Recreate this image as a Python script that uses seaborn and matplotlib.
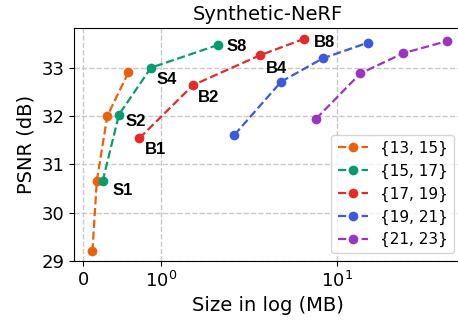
import numpy as np
import pandas as pd
import seaborn as sns
import matplotlib
matplotlib.use("Agg")
import matplotlib.pyplot as plt
from matplotlib.ticker import NullLocator

# data
groups = ["{13, 15}", "{15, 17}", "{17, 19}", "{19, 21}", "{21, 23}"]
size_13_15 = [0.12, 0.176, 0.31, 0.58]
psnr_13_15 = [29.20, 30.66, 32.00, 32.90]
size_15_17 = [0.25, 0.46, 0.87, 2.11]
psnr_15_17 = [30.65, 32.03, 33.00, 33.47]
size_17_19 = [0.72, 1.52, 3.67, 6.46]
psnr_17_19 = [31.54, 32.64, 33.26, 33.59]
size_19_21 = [2.61, 4.82, 8.29, 15.1]
psnr_19_21 = [31.61, 32.71, 33.19, 33.52]
size_21_23 = [7.6, 13.6, 23.9, 42.5]
psnr_21_23 = [31.94, 32.88, 33.30, 33.55]

s_labels = ["S1", "S2", "S4", "S8"]
b_labels = ["B1", "B2", "B4", "B8"]

colors = ["#e8620c", "#079c6e", "#e32b2b", "#3b5bdb", "#9b35bf"]

sizes = [size_13_15, size_15_17, size_17_19, size_19_21, size_21_23]
psnrs = [psnr_13_15, psnr_15_17, psnr_17_19, psnr_19_21, psnr_21_23]

fig = plt.figure(figsize=(4.58, 3.2), dpi=100)
ax = fig.add_axes([0.1616, 0.184, 0.847, 0.7285])

for g, xs, ys, c in zip(groups, sizes, psnrs, colors):
    df = pd.DataFrame({"size": xs, "psnr": ys})
    sns.lineplot(data=df, x="size", y="psnr", ax=ax, color=c, marker="o",
                 markersize=7, markeredgewidth=0, linestyle="--", linewidth=1.6,
                 label=g, sort=False)

# per-point text labels
s_off = [(7, -6.5), (5, -5), (4.3, -8.6), (5.8, -1.2)]
b_off = [(4.3, -8), (3.6, -8.6), (3.6, -9.4), (7.2, -2.2)]
for lab, x, y, off in zip(s_labels, size_15_17, psnr_15_17, s_off):
    ax.annotate(lab, (x, y), xytext=off, textcoords="offset points",
                ha="left", va="center", fontsize=12, fontweight="bold",
                family="Liberation Sans")
for lab, x, y, off in zip(b_labels, size_17_19, psnr_17_19, b_off):
    ax.annotate(lab, (x, y), xytext=off, textcoords="offset points",
                ha="left", va="center", fontsize=12, fontweight="bold",
                family="Liberation Sans")

ax.set_xscale("symlog", linthresh=1, linscale=0.4)
ax.set_xlim(-0.116, 51.5)
ax.set_ylim(29, 33.82)
ax.set_xticks([0, 1, 10])
ax.xaxis.set_minor_locator(NullLocator())
ax.set_yticks([29, 30, 31, 32, 33])
ax.grid(True, linestyle="--", color="#c8c8c8", linewidth=1)
ax.set_axisbelow(True)
ax.tick_params(labelsize=13)

ax.set_title("Synthetic-NeRF", fontsize=14)
ax.set_xlabel("Size in log (MB)", fontsize=14)
ax.set_ylabel("PSNR (dB)", fontsize=14)
ax.legend(loc="lower right", fontsize=11)

fig.savefig("out.png", dpi=100)
